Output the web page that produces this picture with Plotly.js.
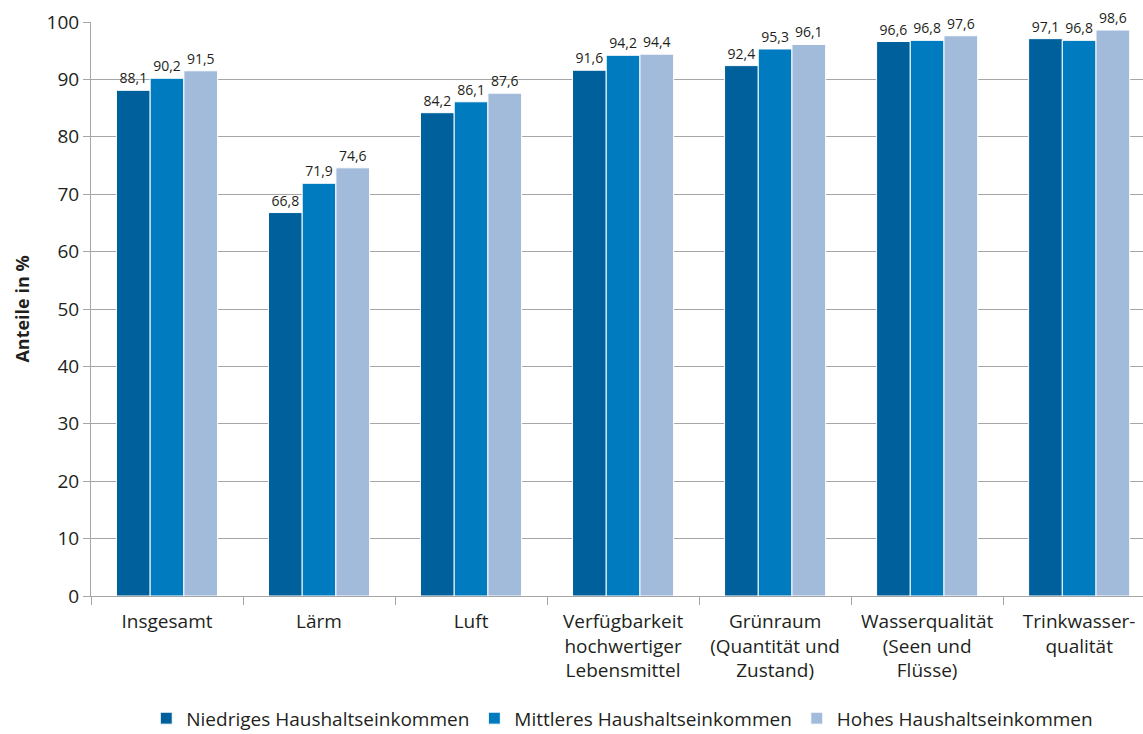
<!DOCTYPE html>
<html>
<head>
<meta charset="utf-8">
<script src="https://cdn.plot.ly/plotly-3.0.1.min.js"></script>
<style>html,body{margin:0;padding:0;background:#fff}#chart{width:1143px;height:734px}</style>
</head>
<body>
<div id="chart"></div>
<script>
const categories = [
  "Insgesamt",
  "Lärm",
  "Luft",
  "Verfügbarkeit<br>hochwertiger<br>Lebensmittel",
  "Grünraum<br>(Quantität und<br>Zustand)",
  "Wasserqualität<br>(Seen und<br>Flüsse)",
  "Trinkwasser-<br>qualität"
];
const seriesNames = ["Niedriges Haushaltseinkommen", "Mittleres Haushaltseinkommen", "Hohes Haushaltseinkommen"];
const niedrig = [88.1, 66.8, 84.2, 91.6, 92.4, 96.6, 97.1];
const mittel  = [90.2, 71.9, 86.1, 94.2, 95.3, 96.8, 96.8];
const hoch    = [91.5, 74.6, 87.6, 94.4, 96.1, 97.6, 98.6];
const colors = ["#00609c", "#007bc0", "#a2bbdb"];
const seriesValues = [niedrig, mittel, hoch];

const FONT = "Open Sans, Lato, sans-serif";
const traces = seriesValues.map((vals, i) => ({
  type: "bar",
  name: seriesNames[i],
  x: categories,
  y: vals,
  marker: {color: colors[i], line: {color: "#ffffff", width: 1}},
  texttemplate: "%{y:.1f}",
  textposition: "outside",
  cliponaxis: false,
  textfont: {size: 14, color: "#231f20", family: FONT},
  hoverinfo: "none"
}));

const layout = {
  width: 1143,
  height: 734,
  margin: {l: 91, r: 0, t: 22, b: 138, autoexpand: false},
  separators: ", ",
  barmode: "group",
  bargap: 0.335,
  bargroupgap: 0,
  plot_bgcolor: "#ffffff",
  paper_bgcolor: "#ffffff",
  font: {family: FONT, color: "#231f20"},
  showlegend: true,
  legend: {
    orientation: "h",
    x: 0.505, xanchor: "center",
    y: -0.18, yanchor: "top",
    font: {size: 19, color: "#231f20", family: FONT},
    traceorder: "normal",
    itemwidth: 30
  },
  xaxis: {
    type: "category",
    range: [-0.5, 6.42],
    showline: true,
    linecolor: "#a6a6a6",
    linewidth: 1,
    ticks: "outside",
    tickson: "boundaries",
    ticklen: 8,
    tickcolor: "#a6a6a6",
    ticklabelstandoff: 8,
    tickfont: {size: 19, color: "#231f20", family: FONT},
    showgrid: false
  },
  yaxis: {
    range: [0, 100],
    dtick: 10,
    showline: true,
    linecolor: "#a6a6a6",
    linewidth: 1,
    ticks: "outside",
    ticklen: 7,
    tickcolor: "#a6a6a6",
    gridcolor: "#a6a6a6",
    gridwidth: 1,
    zeroline: false,
    tickfont: {size: 19, color: "#231f20", family: FONT},
    title: {text: "Anteile in %", font: {size: 18, color: "#231f20", family: FONT, weight: "bold"}, standoff: 12}
  }
};

Plotly.newPlot("chart", traces, layout, {displayModeBar: false, staticPlot: true});
</script>
</body>
</html>
